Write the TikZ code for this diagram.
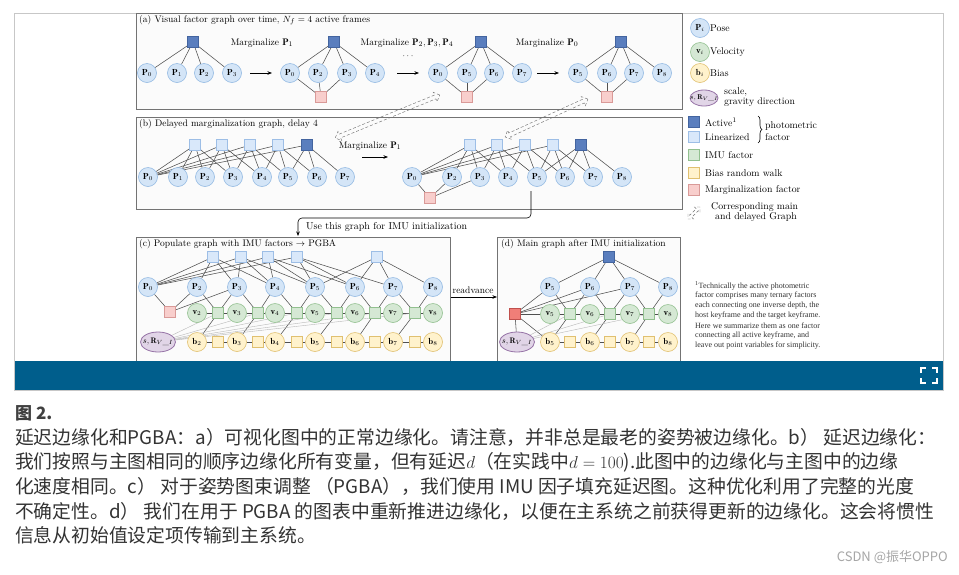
\documentclass[tikz,border=0pt]{standalone}
\usepackage{fontspec}
\newfontfamily\cjk{Noto Sans CJK SC}
\newfontfamily\timesf{Liberation Serif}
\usetikzlibrary{arrows.meta,shapes.geometric,shapes.arrows,decorations.pathreplacing}
\pgfdeclarelayer{panellayer}
\pgfdeclarelayer{edgelayer}
\pgfsetlayers{panellayer,edgelayer,main}
\definecolor{poseF}{HTML}{D4E5F7}
\definecolor{poseD}{HTML}{93B9E3}
\definecolor{actF}{HTML}{5A7EBE}
\definecolor{actD}{HTML}{43649F}
\definecolor{linF}{HTML}{D9E8FA}
\definecolor{linD}{HTML}{9DBEE6}
\definecolor{imuF}{HTML}{D5E8D4}
\definecolor{imuD}{HTML}{92C08F}
\definecolor{biasF}{HTML}{FFF2CC}
\definecolor{biasD}{HTML}{E0C070}
\definecolor{margF}{HTML}{F8CECC}
\definecolor{margD}{HTML}{D99A98}
\definecolor{margS}{HTML}{F07E78}
\definecolor{margSD}{HTML}{C0504D}
\definecolor{purF}{HTML}{E1D5E7}
\definecolor{purD}{HTML}{9673A6}
\definecolor{barblue}{HTML}{005E8C}
\definecolor{edgec}{HTML}{505050}
\definecolor{captc}{HTML}{333333}
\tikzset{
 lab/.style={font=\fontsize{8.8}{9}\selectfont},
 pose/.style={circle, fill=poseF, draw=poseD, line width=0.6, minimum size=19, inner sep=0, lab},
 vel/.style={pose, fill=imuF, draw=imuD},
 bia/.style={pose, fill=biasF, draw=biasD},
 fac/.style={rectangle, minimum size=11, inner sep=0, line width=0.6},
 act/.style={fac, fill=actF, draw=actD},
 lin/.style={fac, fill=linF, draw=linD},
 imu/.style={fac, fill=imuF, draw=imuD},
 rw/.style={fac, fill=biasF, draw=biasD},
 marg/.style={fac, fill=margF, draw=margD},
 margstrong/.style={fac, fill=margS, draw=margSD, line width=0.8},
 sr/.style={ellipse, fill=purF, draw=purD, line width=0.8, minimum width=35, minimum height=20, inner sep=0, font=\fontsize{8}{9}\selectfont},
 edg/.style={draw=edgec, line width=0.55},
 gedg/.style={draw=black!28, line width=0.4},
 panel/.style={draw=black!55, line width=0.8, fill=black!1.5},
 txt/.style={font=\fontsize{9.5}{10}\selectfont},
 legt/.style={font=\fontsize{9.8}{10}\selectfont, anchor=west, inner sep=0},
 arr/.style={-{Stealth[length=4.5,width=3.5]}, line width=0.6},
 corr/.style={double arrow, draw=black!55, densely dashed, line width=0.45, inner sep=1.8, double arrow head extend=3, minimum width=0},
 capt/.style={font=\cjk\fontsize{18.8}{20}\selectfont, text=captc, anchor=base west, inner sep=0},
 foot/.style={font=\timesf\fontsize{8}{9}\selectfont, anchor=west, inner sep=0, text=black!80}
}
\newcommand{\srlab}[1]{\makebox[#1][c]{$s,\mathbf{R}_{V\_I}$}}
\begin{document}
\begin{tikzpicture}[x=1pt,y=-1pt]
\useasboundingbox (0,0) rectangle (959,574);
\begin{pgfonlayer}{panellayer}
\fill[white] (0,0) rectangle (959,574);
\draw[black!22, line width=0.8] (14.5,13) rectangle (943.5,390);
\draw[panel] (136,13.5) rectangle (682,109);
\draw[panel] (136,117) rectangle (682,209);
\draw[panel] (136,237) rectangle (450,372);
\draw[panel] (497,237) rectangle (680,372);
\end{pgfonlayer}

% ---------------- panel (a)
\node[txt, anchor=west, inner sep=0] (ta) at (139,20) {(a) Visual factor graph over time, $N_f = 4$ active frames};
\node[txt] (ma1) at (262,43) {Marginalize $\mathbf{P}_1$};
\node[txt] (ma2) at (407,43) {Marginalize $\mathbf{P}_2, \mathbf{P}_3, \mathbf{P}_4$};
\node[txt] (ma3) at (547,43) {Marginalize $\mathbf{P}_0$};
\node[txt] (dots) at (408,56) {$\cdots$};
\coordinate (aa1) at (250,73); \coordinate (ab1) at (272,73);
\coordinate (aa2) at (397,73); \coordinate (ab2) at (419,73);
\coordinate (aa3) at (537,73); \coordinate (ab3) at (559,73);
\draw[arr] (aa1) -- (ab1);
\draw[arr] (aa2) -- (ab2);
\draw[arr] (aa3) -- (ab3);
% group 1
\foreach \n/\x in {0/147,1/177,2/204,3/232} \node[pose] (a1p\n) at (\x,73) {$\mathbf{P}_{\n}$};
\node[act] (a1f) at (193,42) {};
% group 2
\foreach \n/\x in {0/290,2/318,3/347,4/375} \node[pose] (a2p\n) at (\x,73) {$\mathbf{P}_{\n}$};
\node[act] (a2f) at (334,42) {};
\node[marg] (a2m) at (321,97) {};
% group 3
\foreach \n/\x in {0/438,5/467,6/494,7/522} \node[pose] (a3p\n) at (\x,73) {$\mathbf{P}_{\n}$};
\node[act] (a3f) at (481,42) {};
\node[marg] (a3m) at (467,97) {};
% group 4
\foreach \n/\x in {5/578,6/607,7/634,8/662} \node[pose] (a4p\n) at (\x,73) {$\mathbf{P}_{\n}$};
\node[act] (a4f) at (621,42) {};
\node[marg] (a4m) at (607,97) {};
\begin{pgfonlayer}{edgelayer}
\foreach \p in {0,1,2,3} \draw[edg] (a1f) -- (a1p\p);
\foreach \p in {0,2,3,4} \draw[edg] (a2f) -- (a2p\p);
\foreach \p in {0,2,3} \draw[edg] (a2m) -- (a2p\p);
\foreach \p in {0,5,6,7} \draw[edg] (a3f) -- (a3p\p);
\foreach \p in {0,5,6} \draw[edg] (a3m) -- (a3p\p);
\foreach \p in {5,6,7,8} \draw[edg] (a4f) -- (a4p\p);
\foreach \p in {5,6,7} \draw[edg] (a4m) -- (a4p\p);
\end{pgfonlayer}

% ---------------- panel (b)
\node[txt, anchor=west, inner sep=0] (tb) at (139,124) {(b) Delayed marginalization graph, delay 4};
\node[txt] (mb) at (370,146) {Marginalize $\mathbf{P}_1$};
\coordinate (ba) at (362,157); \coordinate (bb) at (388,157);
\draw[arr] (ba) -- (bb);
\foreach \n/\x in {0/148,1/178,2/205,3/233,4/262,5/288,6/317,7/345} \node[pose] (bp\n) at (\x,177) {$\mathbf{P}_{\n}$};
\foreach \n/\x in {1/195,2/222,3/250,4/278} \node[lin] (bf\n) at (\x,145) {};
\node[act] (bf5) at (307,145) {};
\foreach \n/\x in {0/412,2/452,3/480,4/508,5/537,6/565,7/593,8/622} \node[pose] (rp\n) at (\x,177) {$\mathbf{P}_{\n}$};
\foreach \n/\x in {2/470,3/497,4/525,5/553} \node[lin] (rf\n) at (\x,145) {};
\node[act] (rf6) at (581,145) {};
\node[marg] (rm) at (430,198) {};
\begin{pgfonlayer}{edgelayer}
\foreach \p in {0,1,2,3} \draw[edg] (bf1) -- (bp\p);
\foreach \p in {0,2,3,4} \draw[edg] (bf2) -- (bp\p);
\foreach \p in {0,3,4,5} \draw[edg] (bf3) -- (bp\p);
\foreach \p in {0,4,5,6} \draw[edg] (bf4) -- (bp\p);
\foreach \p in {0,5,6,7} \draw[edg] (bf5) -- (bp\p);
\foreach \p in {0,2,3,4} \draw[edg] (rf2) -- (rp\p);
\foreach \p in {0,3,4,5} \draw[edg] (rf3) -- (rp\p);
\foreach \p in {0,4,5,6} \draw[edg] (rf4) -- (rp\p);
\foreach \p in {0,5,6,7} \draw[edg] (rf5) -- (rp\p);
\foreach \p in {5,6,7,8} \draw[edg] (rf6) -- (rp\p);
\foreach \p in {0,2,3} \draw[edg] (rm) -- (rp\p);
\end{pgfonlayer}

% corresponding arrows
\node[corr, minimum height=113, rotate=22.3] (cr1) at (387.5,116.5) {};
\node[corr, minimum height=91, rotate=24.6] (cr2) at (546.5,118) {};

% use this graph connector
\coordinate (us) at (531,191);
\coordinate (ue) at (298,236);
\draw[arr, rounded corners=4] (us) |- (ue |- 0,218) -- (ue);
\node[txt, font=\fontsize{10}{11}\selectfont, anchor=west, inner sep=0] (ul) at (306,227) {Use this graph for IMU initialization};

% ---------------- panel (c)
\node[txt, anchor=west, inner sep=0] (tc) at (139,244) {(c) Populate graph with IMU factors $\rightarrow$ PGBA};
\foreach \n/\x in {0/148,2/197,3/237,4/275,5/315,6/355,7/393,8/433} \node[pose] (cp\n) at (\x,287) {$\mathbf{P}_{\n}$};
\foreach \n/\x in {2/213,3/241,4/268,5/297,6/377} \node[lin] (cf\n) at (\x,257) {};
\node[marg] (cm) at (170,312) {};
\foreach \n/\x in {2/197,3/237,4/275,5/315,6/355,7/393,8/433} {
  \node[vel] (cv\n) at (\x,313) {$\mathbf{v}_{\n}$};
  \node[bia] (cb\n) at (\x,342) {$\mathbf{b}_{\n}$};
}
\foreach \n/\x in {2/218,3/258,4/297,5/337,6/375,7/415} {
  \node[imu] (cg\n) at (\x,313) {};
  \node[rw] (cy\n) at (\x,342) {};
}
\node[sr] (csr) at (158,342) {\srlab{23pt}};
\begin{pgfonlayer}{edgelayer}
\foreach \p in {0,2,3,4} \draw[edg] (cf2) -- (cp\p);
\foreach \p in {0,3,4,5} \draw[edg] (cf3) -- (cp\p);
\foreach \p in {0,4,5,6} \draw[edg] (cf4) -- (cp\p);
\foreach \p in {0,5,6,7} \draw[edg] (cf5) -- (cp\p);
\foreach \p in {5,6,7,8} \draw[edg] (cf6) -- (cp\p);
\foreach \p in {0,2,3} \draw[edg] (cm) -- (cp\p);
\foreach \n/\m in {2/3,3/4,4/5,5/6,6/7,7/8} {
  \draw[edg] (cg\n) -- (cp\n);
  \draw[edg] (cg\n) -- (cp\m);
  \draw[edg] (cg\n) -- (cv\n);
  \draw[edg] (cg\n) -- (cv\m);
  \draw[edg] (cg\n) -- (cb\n);
  \draw[edg] (cy\n) -- (cb\n);
  \draw[edg] (cy\n) -- (cb\m);
  \draw[gedg] (csr) -- (cg\n);
}
\end{pgfonlayer}

% readvance
\coordinate (ra) at (450.5,297); \coordinate (rb) at (497,297);
\draw[arr] (ra) -- (rb);
\node[txt] (rl) at (473,290) {readvance};

% ---------------- panel (d)
\node[txt, anchor=west, inner sep=0] (td) at (501,244) {(d) Main graph after IMU initialization};
\node[act] (df) at (609,257) {};
\foreach \n/\x in {5/550,6/590,7/630,8/668} {
  \node[pose] (dp\n) at (\x,287) {$\mathbf{P}_{\n}$};
  \node[vel] (dv\n) at (\x,314) {$\mathbf{v}_{\n}$};
  \node[bia] (db\n) at (\x,342) {$\mathbf{b}_{\n}$};
}
\foreach \n/\x in {5/570,6/610,7/649} {
  \node[imu] (dg\n) at (\x,314) {};
  \node[rw] (dy\n) at (\x,342) {};
}
\node[margstrong] (dm) at (515,314) {};
\node[sr] (dsr) at (517,342) {\srlab{23pt}};
\begin{pgfonlayer}{edgelayer}
\foreach \p in {5,6,7,8} \draw[edg] (df) -- (dp\p);
\foreach \t in {dp5,dp6,dp7,dv5,db5,dsr} \draw[edg] (dm) -- (\t);
\foreach \n/\m in {5/6,6/7,7/8} {
  \draw[edg] (dg\n) -- (dp\n);
  \draw[edg] (dg\n) -- (dp\m);
  \draw[edg] (dg\n) -- (dv\n);
  \draw[edg] (dg\n) -- (dv\m);
  \draw[edg] (dg\n) -- (db\n);
  \draw[edg] (dy\n) -- (db\n);
  \draw[edg] (dy\n) -- (db\m);
  \draw[gedg] (dsr) -- (dg\n);
}
\end{pgfonlayer}

% ---------------- legend
\node[pose] (lp) at (700,28) {$\mathbf{P}_i$};
\node[legt] (lpt) at (710,28) {Pose};
\node[vel] (lv) at (700,52) {$\mathbf{v}_i$};
\node[legt] (lvt) at (710,52) {Velocity};
\node[bia] (lb) at (700,73) {$\mathbf{b}_i$};
\node[legt] (lbt) at (710,73) {Bias};
\node[sr, minimum width=28, minimum height=16, font=\fontsize{7}{8}\selectfont] (lsr) at (704,98) {\srlab{18pt}};
\node[legt] (lst1) at (724,92) {scale,};
\node[legt] (lst2) at (724,102) {gravity direction};
\node[act] (la) at (694,122) {};
\node[legt] (lat) at (705,122) {Active$^1$};
\node[lin] (ll) at (694,137) {};
\node[legt] (llt) at (705,137) {Linearized};
\coordinate (br1) at (758,116); \coordinate (br2) at (758,143);
\draw[line width=0.6, decorate, decoration={brace, amplitude=4}] (br1) -- (br2);
\node[legt] (lph1) at (765,126) {photometric};
\node[legt] (lph2) at (765,137) {factor};
\node[imu] (li) at (694,155) {};
\node[legt] (lit) at (705,155) {IMU factor};
\node[rw] (lr) at (694,173) {};
\node[legt] (lrt) at (705,173) {Bias random walk};
\node[marg] (lm) at (694,190) {};
\node[legt] (lmt) at (705,190) {Marginalization factor};
\node[corr, minimum height=17, inner sep=1.2, double arrow head extend=2.5, rotate=45] (lc) at (694,213) {};
\node[legt] (lct1) at (711,207) {Corresponding main};
\node[legt] (lct2) at (715,217) {and delayed Graph};

% footnote
\node[foot] (f1) at (695,285.5) {\textsuperscript{1}Technically the active photometric};
\node[foot] (f2) at (695,295.5) {factor comprises many ternary factors};
\node[foot] (f3) at (695,305.5) {each connecting one inverse depth, the};
\node[foot] (f4) at (695,315.5) {host keyframe and the target keyframe.};
\node[foot] (f5) at (695,325.5) {Here we summarize them as one factor};
\node[foot] (f6) at (695,335.5) {connecting all active keyframe, and};
\node[foot] (f7) at (695,345.5) {leave out point variables for simplicity.};

% blue bar and icon
\fill[barblue] (15,361) rectangle (943,389.5);
\draw[white, line width=2] (921,373) -- (921,368) -- (926,368);
\draw[white, line width=2] (932,368) -- (937,368) -- (937,373);
\draw[white, line width=2] (921,378) -- (921,383) -- (926,383);
\draw[white, line width=2] (932,383) -- (937,383) -- (937,378);

% caption
\node[capt, font=\cjk\bfseries\fontsize{17}{20}\selectfont, text=black!75] (c0) at (15,419) {图 2.};
\node[capt] (c1) at (15,444) {延迟边缘化和PGBA：a）可视化图中的正常边缘化。请注意，并非总是最老的姿势被边缘化。b） 延迟边缘化：};
\node[capt] (c2) at (15,468) {我们按照与主图相同的顺序边缘化所有变量，但有延迟$d$（在实践中$d = 100$).此图中的边缘化与主图中的边缘};
\node[capt] (c3) at (15,493) {化速度相同。c） 对于姿势图束调整 （PGBA），我们使用 IMU 因子填充延迟图。这种优化利用了完整的光度};
\node[capt] (c4) at (15,518) {不确定性。d） 我们在用于 PGBA 的图表中重新推进边缘化，以便在主系统之前获得更新的边缘化。这会将惯性};
\node[capt] (c5) at (15,542) {信息从初始值设定项传输到主系统。};
\node[font=\cjk\fontsize{13}{15}\selectfont, text=black!35, anchor=base east, inner sep=0] (wm) at (948,561) {CSDN @振华OPPO};
\end{tikzpicture}
\end{document}
